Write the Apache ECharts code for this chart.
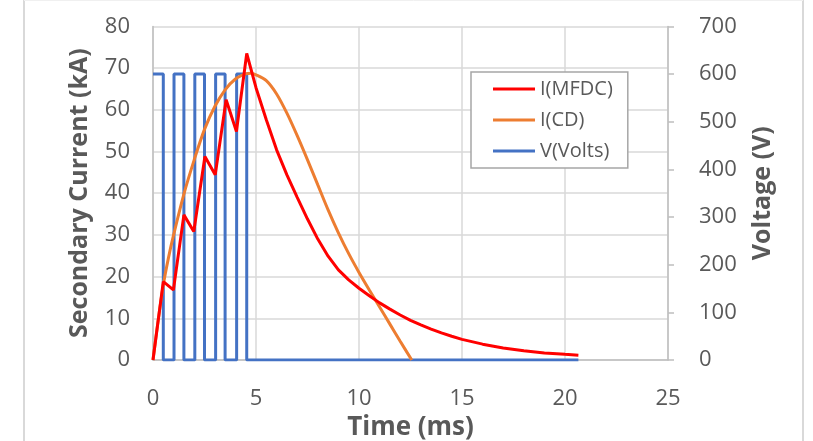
<!DOCTYPE html>
<html>
<head>
<meta charset="utf-8">
<script src="https://cdn.jsdelivr.net/npm/echarts@6/dist/echarts.min.js"></script>
<style>html,body{margin:0;padding:0;background:#fff}#c{width:813px;height:441px}</style>
</head>
<body>
<div id="c"></div>
<script>
// ---- data ----
var xTicks = [0, 5, 10, 15, 20, 25];
var mfdcTime  = [0, 0.5, 0.99, 1.5, 1.98, 2.52, 3.02, 3.55, 4.05, 4.55, 5.0, 5.5, 6.0, 6.5, 7.0, 7.5, 8.0, 8.5, 9.0, 9.5, 10.0, 10.5, 11.0, 11.5, 12.0, 12.5, 13.0, 13.5, 14.0, 14.5, 15.0, 16.0, 17.0, 18.0, 19.0, 20.0, 20.65];
var mfdcValue = [0, 18.8, 16.8, 34.8, 30.8, 48.8, 44.4, 62.4, 54.8, 73.5, 65.3, 57.6, 50.4, 44.4, 39.0, 33.8, 29.0, 24.9, 21.6, 19.2, 17.2, 15.4, 13.7, 12.2, 10.8, 9.5, 8.4, 7.4, 6.5, 5.7, 4.95, 3.8, 2.9, 2.2, 1.7, 1.35, 1.15];
var cdTime  = [0, 0.25, 0.5, 0.75, 1.0, 1.5, 2.0, 2.5, 3.0, 3.5, 4.0, 4.5, 4.75, 5.0, 5.5, 6.0, 6.5, 7.0, 7.5, 8.0, 8.5, 9.0, 9.5, 10.0, 10.5, 11.0, 11.5, 12.0, 12.56];
var cdValue = [0, 9.5, 18.0, 24.5, 30.0, 39.8, 48.0, 55.3, 60.8, 64.8, 67.4, 68.6, 68.75, 68.4, 67.0, 63.8, 59.2, 53.8, 48.0, 42.0, 36.0, 30.5, 25.5, 21.0, 16.8, 12.7, 8.6, 4.5, 0];
var voltTime  = [0, 0.5, 0.5, 1.02, 1.02, 1.5, 1.5, 2.03, 2.03, 2.5, 2.5, 3.04, 3.04, 3.5, 3.5, 4.06, 4.06, 4.55, 4.55, 20.65];
var voltValue = [600, 600, 0, 0, 600, 600, 0, 0, 600, 600, 0, 0, 600, 600, 0, 0, 600, 600, 0, 0];
var seriesNames = ['I(MFDC)', 'I(CD)', 'V(Volts)'];

function pairs(t, v) { return t.map(function (x, i) { return [x, v[i]]; }); }

var FONT = 'Open Sans';
var TXT = '#595959';
var chart = echarts.init(document.getElementById('c'), null, { renderer: 'canvas' });
chart.setOption({
  animation: false,
  backgroundColor: '#ffffff',
  textStyle: { fontFamily: FONT },
  graphic: [
    { type: 'line', shape: { x1: 24, y1: 0, x2: 24, y2: 441 }, style: { stroke: '#d9d9d9', lineWidth: 2 } },
    { type: 'line', shape: { x1: 803, y1: 0, x2: 803, y2: 441 }, style: { stroke: '#d9d9d9', lineWidth: 2 } },
    { type: 'line', shape: { x1: 24, y1: 0.5, x2: 803, y2: 0.5 }, style: { stroke: '#f0f0f0', lineWidth: 1 } }
  ],
  grid: { left: 153, right: 145, top: 26.4, bottom: 81, containLabel: false, outerBoundsMode: 'none' },
  legend: {
    data: seriesNames,
    orient: 'vertical',
    left: 471, top: 72,
    icon: 'rect', itemWidth: 42, itemHeight: 3, itemGap: 11,
    padding: [7, 15, 7, 22],
    borderColor: '#a6a6a6', borderWidth: 1.5, backgroundColor: '#fff',
    textStyle: { fontFamily: FONT, fontSize: 20, color: TXT }
  },
  xAxis: {
    type: 'value', min: 0, max: 25, interval: 5,
    name: 'Time (ms)', nameLocation: 'middle', nameGap: 52,
    nameTextStyle: { fontFamily: FONT, fontSize: 26, fontWeight: 'bold', color: TXT },
    axisLine: { show: true, lineStyle: { color: '#bfbfbf', width: 1.5 } },
    axisTick: { show: false },
    axisLabel: { fontFamily: FONT, fontSize: 22, color: TXT, margin: 28,
      formatter: function (v) { return xTicks.indexOf(v) >= 0 ? String(v) : ''; } },
    splitLine: { show: true, lineStyle: { color: '#d9d9d9', width: 1.5 } }
  },
  yAxis: [
    {
      type: 'value', min: 0, max: 80, interval: 10, position: 'left',
      name: 'Secondary Current (kA)', nameLocation: 'middle', nameGap: 61, nameRotate: 90,
      nameTextStyle: { fontFamily: FONT, fontSize: 25, fontWeight: 'bold', color: TXT },
      axisLine: { show: true, lineStyle: { color: '#bfbfbf', width: 1.5 } },
      axisTick: { show: false },
      axisLabel: { fontFamily: FONT, fontSize: 22, color: TXT, margin: 23 },
      splitLine: { show: true, lineStyle: { color: '#d9d9d9', width: 1.5 } }
    },
    {
      type: 'value', min: 0, max: 700, interval: 100, position: 'right',
      name: 'Voltage (V)', nameLocation: 'middle', nameGap: 82, nameRotate: 90,
      nameTextStyle: { fontFamily: FONT, fontSize: 25, fontWeight: 'bold', color: TXT },
      axisLine: { show: true, lineStyle: { color: '#bfbfbf', width: 1.5 } },
      axisTick: { show: true, length: 6, lineStyle: { color: '#bfbfbf', width: 1.5 } },
      axisLabel: { fontFamily: FONT, fontSize: 22, color: TXT, margin: 31 },
      splitLine: { show: false }
    }
  ],
  series: [
    { name: seriesNames[0], type: 'line', yAxisIndex: 0, data: pairs(mfdcTime, mfdcValue),
      showSymbol: false, symbol: 'none', z: 4, color: '#ff0000',
      lineStyle: { color: '#ff0000', width: 3 } },
    { name: seriesNames[1], type: 'line', yAxisIndex: 0, data: pairs(cdTime, cdValue),
      showSymbol: false, symbol: 'none', smooth: 0.3, z: 3, color: '#ed7d31',
      lineStyle: { color: '#ed7d31', width: 3 } },
    { name: seriesNames[2], type: 'line', yAxisIndex: 1, data: pairs(voltTime, voltValue),
      showSymbol: false, symbol: 'none', z: 2, color: '#4472c4',
      lineStyle: { color: '#4472c4', width: 3 } }
  ]
});
</script>
</body>
</html>
